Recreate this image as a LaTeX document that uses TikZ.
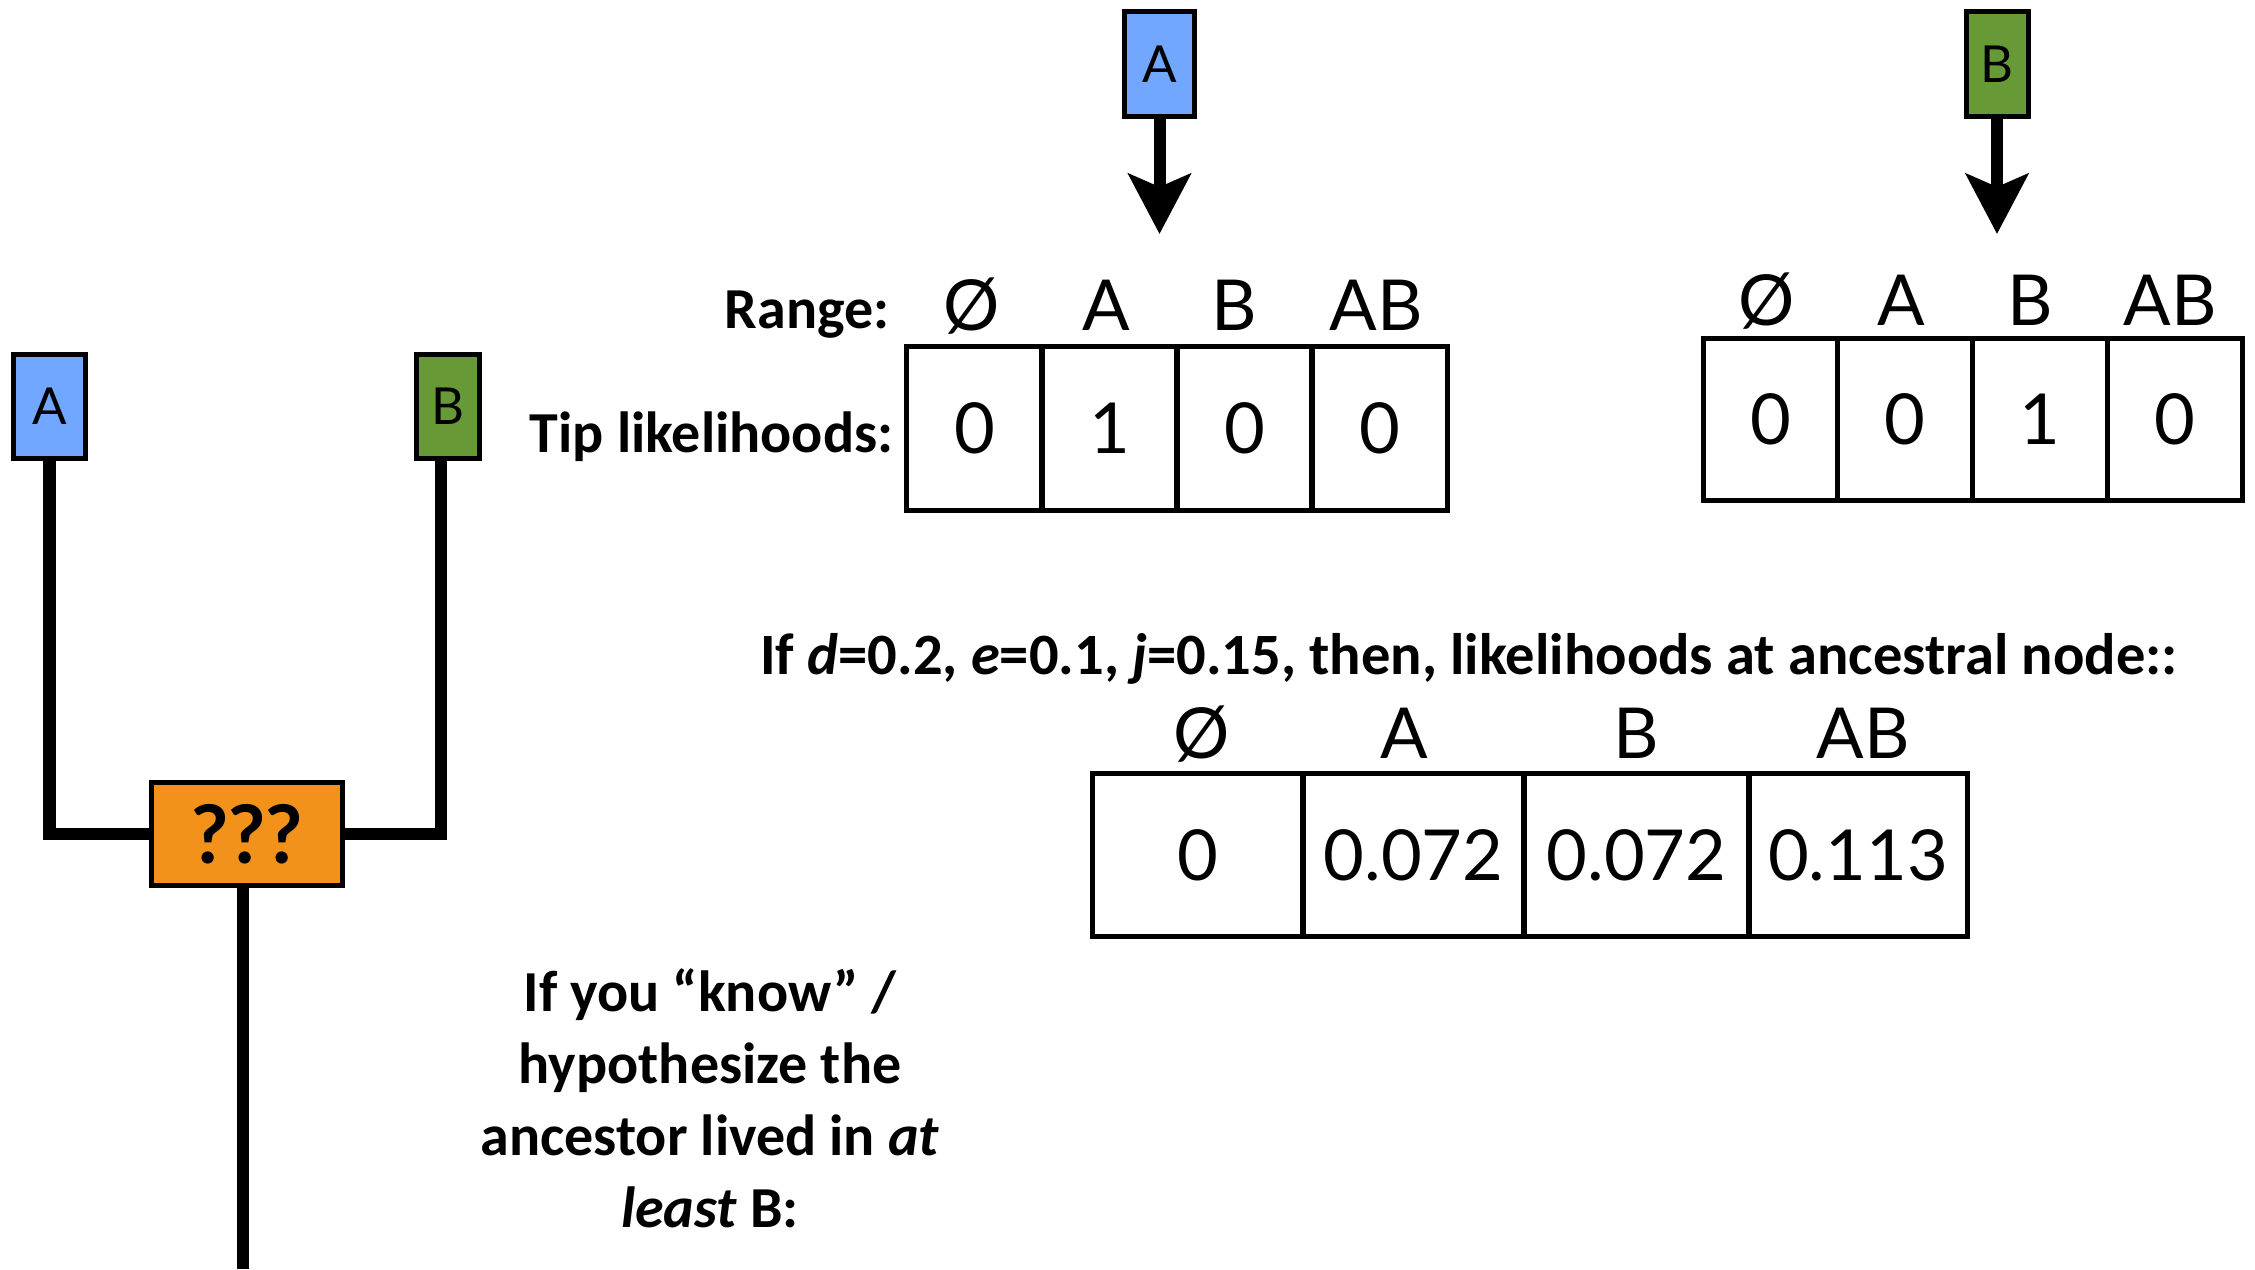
\documentclass[tikz,border=0pt]{standalone}
\usepackage{fontspec}
\setmainfont{Carlito}
\newfontfamily\gill{Lato}
\usetikzlibrary{arrows.meta}

\definecolor{tipblue}{RGB}{114,167,255}
\definecolor{tipgreen}{RGB}{103,154,55}
\definecolor{ancorange}{RGB}{242,146,26}

\begin{document}
\begin{tikzpicture}[x=0.01cm, y=-0.01cm,
  tipbox/.style={draw, line width=0.05cm, inner sep=0pt, minimum height=1.04cm,
    font=\gill\fontsize{14.5}{16}\selectfont},
  branch/.style={line width=0.12cm, line join=miter},
  pointer/.style={line width=0.12cm, -{Stealth[length=0.6cm, width=0.62cm, inset=0.13cm]}},
  cell/.style={draw, line width=0.05cm, inner sep=0pt, font=\gill\fontsize{20}{24}\selectfont},
  hdr/.style={inner sep=0pt, anchor=base, font=\gill\fontsize{20}{24}\selectfont},
  lbl/.style={inner sep=0pt, font=\bfseries\fontsize{16.5}{20.5}\selectfont},
]
\useasboundingbox (0,0) rectangle (2255,1269);

% ---- tree ----
\node[tipbox, fill=tipblue, minimum width=0.71cm] (tipA) at (49.5,406.5) {A};
\node[tipbox, fill=tipgreen, minimum width=0.62cm] (tipB) at (448,406.5) {B};
\node[draw, line width=0.05cm, fill=ancorange, minimum width=1.9cm, minimum height=1.02cm,
  inner sep=0pt, font=\gill\bfseries\fontsize{23}{26}\selectfont] (anc) at (247,834) {???};
\coordinate (root) at (243,1269);

\draw[branch] (tipA.south) |- (anc.west);
\draw[branch] ([xshift=-0.075cm]tipB.south) |- (anc.east);
\draw[branch] (anc.south -| root) -- (root);

% ---- tip A likelihoods ----
\node[tipbox, fill=tipblue, minimum width=0.7cm] (topA) at (1159.5,64) {A};
\coordinate (topAend) at (1159.5,234);
\draw[pointer] (topA.south) -- (topAend);

\node[lbl, anchor=base east] (rangelbl) at (890,328) {Range:};
\node[lbl, anchor=base east] (tiplbl) at (894,452) {Tip likelihoods:};

\node[hdr] (h1n) at (972,330) {Ø};
\node[hdr] (h1a) at (1106,330) {A};
\node[hdr] (h1b) at (1234,330) {B};
\node[hdr] (h1ab) at (1376,330) {AB};

\node[cell, minimum width=1.35cm, minimum height=1.63cm] (c1n) at (974.5,428.5) {0};
\node[cell, minimum width=1.35cm, minimum height=1.63cm] (c1a) at (1109.5,428.5) {1};
\node[cell, minimum width=1.35cm, minimum height=1.63cm] (c1b) at (1244.5,428.5) {0};
\node[cell, minimum width=1.35cm, minimum height=1.63cm] (c1ab) at (1379.5,428.5) {0};

% ---- tip B likelihoods ----
\node[tipbox, fill=tipgreen, minimum width=0.62cm] (topB) at (1997,64) {B};
\coordinate (topBend) at (1997,234);
\draw[pointer] (topB.south) -- (topBend);

\node[hdr] (h2n) at (1767,325) {Ø};
\node[hdr] (h2a) at (1901,325) {A};
\node[hdr] (h2b) at (2030,325) {B};
\node[hdr] (h2ab) at (2170,325) {AB};

\node[cell, minimum width=1.3475cm, minimum height=1.61cm] (c2n) at (1770.4,419.5) {0};
\node[cell, minimum width=1.3475cm, minimum height=1.61cm] (c2a) at (1905.1,419.5) {0};
\node[cell, minimum width=1.3475cm, minimum height=1.61cm] (c2b) at (2039.9,419.5) {1};
\node[cell, minimum width=1.3475cm, minimum height=1.61cm] (c2ab) at (2174.6,419.5) {0};

% ---- ancestral likelihoods ----
\node[lbl, anchor=base, font=\bfseries\fontsize{16.65}{20.5}\selectfont] (cond) at (1469,674)
  {If \textit{d}=0.2, \textit{e}=0.1, \textit{j}=0.15, then, likelihoods at ancestral node::};

\node[hdr] (h3n) at (1202,758) {Ø};
\node[hdr] (h3a) at (1404,758) {A};
\node[hdr] (h3b) at (1636,758) {B};
\node[hdr] (h3ab) at (1863,758) {AB};

\node[cell, minimum width=2.10cm, minimum height=1.62cm] (c3n) at (1198,855) {0};
\node[cell, minimum width=2.21cm, minimum height=1.62cm] (c3a) at (1413.5,855) {0.072};
\node[cell, minimum width=2.25cm, minimum height=1.62cm] (c3b) at (1636.5,855) {0.072};
\node[cell, minimum width=2.18cm, minimum height=1.62cm] (c3ab) at (1858,855) {0.113};

% ---- hypothesis note ----
\node[lbl, align=center, anchor=north] (note) at (710,968)
  {If you “know” /\\ hypothesize the\\ ancestor lived in \textit{at}\\ \textit{least} B:};
\end{tikzpicture}
\end{document}
